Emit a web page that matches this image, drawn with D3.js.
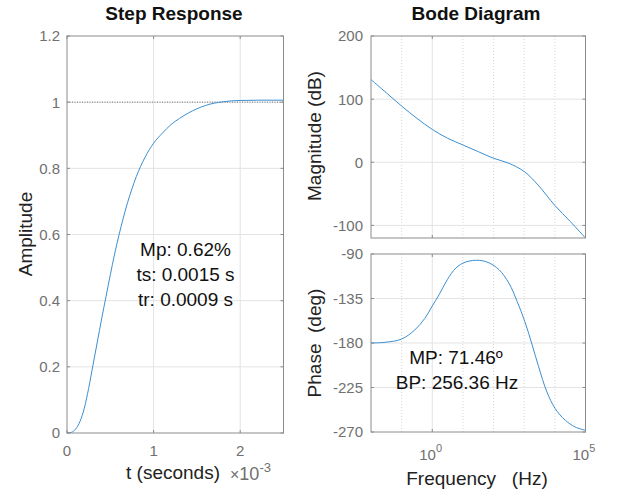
<!DOCTYPE html>
<html>
<head>
<meta charset="utf-8">
<script src="https://d3js.org/d3.v7.min.js"></script>
<style>
  body { margin: 0; background: #fff; }
  svg text { font-family: "Liberation Sans", Arial, Helvetica, sans-serif; }
</style>
</head>
<body>
<div id="chart"></div>
<script>
// step response (time in ms, amplitude)
const stepTime = [0, 0.05, 0.1, 0.15, 0.2, 0.25, 0.3, 0.35, 0.4, 0.45, 0.5, 0.55, 0.6, 0.65, 0.7, 0.75, 0.8, 0.85, 0.9, 0.95, 1.0, 1.1, 1.2, 1.3, 1.4, 1.5, 1.6, 1.7, 1.8, 1.9, 2.0, 2.2, 2.5];
const stepAmp  = [0, 0.002, 0.012, 0.035, 0.075, 0.135, 0.205, 0.275, 0.345, 0.412, 0.478, 0.541, 0.598, 0.65, 0.697, 0.738, 0.775, 0.806, 0.833, 0.856, 0.876, 0.906, 0.932, 0.951, 0.967, 0.98, 0.99, 0.997, 1.001, 1.004, 1.005, 1.006, 1.006];

// bode magnitude
const magFreq = [0.01, 0.0316, 0.1, 0.316, 1, 3.16, 10, 31.6, 100, 316, 1000, 2818, 10000, 31623, 100000];
const magDb   = [131, 110, 89, 69.5, 52, 38, 27.4, 16.8, 6.3, -1.6, -14.7, -36, -68.4, -93.7, -120];

// bode phase
const phaseFreq = [0.01, 0.0288, 0.1, 0.269, 0.575, 1, 1.66, 3.09, 5.89, 12.3, 33.9, 72.4, 151, 316, 589, 1047, 1820, 2951, 5495, 10233, 21878, 45709, 100000];
const phaseDeg  = [-180, -179.3, -176, -166.8, -155, -142.5, -131.3, -116, -104.2, -98.1, -96.4, -99.1, -105.9, -119.4, -138, -158.3, -182, -204, -229.4, -246.3, -258.1, -264.9, -268.3];

const stepXTicks = [0, 1, 2];
const stepYTicks = [0, 0.2, 0.4, 0.6, 0.8, 1, 1.2];
const magTicks = [-100, 0, 100, 200];
const phaseTicks = [-270, -225, -180, -135, -90];
const decades = [-1, 0, 1, 2, 3, 4];

const W = 617, H = 493;
const lineColor = "#3a8fd3";
const boxColor = "#8c8c8c";
const gridColor = "#e3e3e3";
const tickText = "#707070";
const labelText = "#222";

const svg = d3.select("#chart").append("svg")
    .attr("width", W).attr("height", H);

// ---------- step response ----------
const sx = d3.scaleLinear().domain([0, 2.5]).range([67, 283.5]);
const sy = d3.scaleLinear().domain([0, 1.2]).range([433, 36]);

const gs = svg.append("g");
gs.selectAll(".gx").data(stepXTicks.slice(1)).enter().append("line")
    .attr("x1", d => sx(d)).attr("x2", d => sx(d))
    .attr("y1", sy(0)).attr("y2", sy(1.2))
    .attr("stroke", gridColor);
gs.selectAll(".gy").data(stepYTicks.slice(1, -1)).enter().append("line")
    .attr("x1", sx(0)).attr("x2", sx(2.5))
    .attr("y1", d => sy(d)).attr("y2", d => sy(d))
    .attr("stroke", gridColor);

// reference line at 1
gs.append("line")
    .attr("x1", sx(0)).attr("x2", sx(2.5))
    .attr("y1", sy(1)).attr("y2", sy(1))
    .attr("stroke", "#555").attr("stroke-dasharray", "1,1.5").attr("stroke-width", 0.8);

const stepLine = d3.line()
    .x((d, i) => sx(stepTime[i]))
    .y(d => sy(d))
    .curve(d3.curveMonotoneX);
gs.append("path").datum(stepAmp)
    .attr("d", stepLine)
    .attr("fill", "none").attr("stroke", lineColor).attr("stroke-width", 1);

drawBox(gs, sx.range(), sy.range());
// ticks inward
stepXTicks.forEach(t => {
  gs.append("line").attr("x1", sx(t)).attr("x2", sx(t)).attr("y1", sy(0)).attr("y2", sy(0) - 3).attr("stroke", boxColor);
  gs.append("line").attr("x1", sx(t)).attr("x2", sx(t)).attr("y1", sy(1.2)).attr("y2", sy(1.2) + 3).attr("stroke", boxColor);
});
stepYTicks.forEach(t => {
  gs.append("line").attr("x1", sx(0)).attr("x2", sx(0) + 3).attr("y1", sy(t)).attr("y2", sy(t)).attr("stroke", boxColor);
  gs.append("line").attr("x1", sx(2.5)).attr("x2", sx(2.5) - 3).attr("y1", sy(t)).attr("y2", sy(t)).attr("stroke", boxColor);
});

gs.selectAll(".xl").data(stepXTicks).enter().append("text")
    .attr("x", d => sx(d)).attr("y", 456)
    .attr("text-anchor", "middle").attr("font-size", 15).attr("fill", tickText)
    .text(d => d);
gs.selectAll(".yl").data(stepYTicks).enter().append("text")
    .attr("x", 60).attr("y", d => sy(d)).attr("dy", "0.36em")
    .attr("text-anchor", "end").attr("font-size", 15).attr("fill", tickText)
    .text(d => d);

const expo = gs.append("text").attr("x", 230).attr("y", 480)
    .attr("font-size", 18).attr("fill", tickText);
expo.append("tspan").attr("font-size", 16).text("\u00d7");
expo.append("tspan").text("10");
expo.append("tspan").attr("dy", -8).attr("font-size", 13).text("-3");

gs.append("text").attr("x", 173).attr("y", 479)
    .attr("text-anchor", "middle").attr("font-size", 19).attr("fill", labelText)
    .text("t (seconds)");
gs.append("text").attr("transform", "translate(32,234) rotate(-90)")
    .attr("text-anchor", "middle").attr("font-size", 19).attr("fill", labelText)
    .text("Amplitude");
gs.append("text").attr("x", 174).attr("y", 20)
    .attr("text-anchor", "middle").attr("font-size", 19).attr("font-weight", "bold").attr("fill", "#111")
    .text("Step Response");

["Mp: 0.62%", "ts: 0.0015 s", "tr: 0.0009 s"].forEach((s, i) => {
  gs.append("text").attr("x", 185.5).attr("y", 256 + i * 25)
      .attr("text-anchor", "middle").attr("font-size", 19).attr("fill", "#111")
      .text(s);
});

// ---------- bode ----------
const bx = d3.scaleLog().domain([0.01, 1e5]).range([371, 585.5]);
const my = d3.scaleLinear().domain([-120, 200]).range([238, 36]);
const py = d3.scaleLinear().domain([-270, -90]).range([432, 254]);

function bodePanel(g, y, yTicks, yDomain) {
  decades.forEach(k => {
    const xv = bx(Math.pow(10, k));
    g.append("line").attr("x1", xv).attr("x2", xv)
        .attr("y1", y(yDomain[0])).attr("y2", y(yDomain[1]))
        .attr("stroke", k === 0 ? gridColor : "#d6d6d6")
        .attr("stroke-dasharray", k === 0 ? null : "1,2");
  });
  yTicks.forEach(t => {
    if (t > yDomain[0] && t < yDomain[1]) {
      g.append("line").attr("x1", bx.range()[0]).attr("x2", bx.range()[1])
          .attr("y1", y(t)).attr("y2", y(t)).attr("stroke", gridColor);
    }
    g.append("line").attr("x1", bx.range()[0]).attr("x2", bx.range()[0] + 3)
        .attr("y1", y(t)).attr("y2", y(t)).attr("stroke", boxColor);
    g.append("line").attr("x1", bx.range()[1]).attr("x2", bx.range()[1] - 3)
        .attr("y1", y(t)).attr("y2", y(t)).attr("stroke", boxColor);
  });
  g.selectAll(".yl").data(yTicks).enter().append("text")
      .attr("x", 363).attr("y", d => y(d)).attr("dy", "0.36em")
      .attr("text-anchor", "end").attr("font-size", 15).attr("fill", tickText)
      .text(d => d);
  [0, 5].forEach(k => {
    const xv = bx(Math.pow(10, k));
    g.append("line").attr("x1", xv).attr("x2", xv).attr("y1", y(yDomain[0])).attr("y2", y(yDomain[0]) - 3).attr("stroke", boxColor);
    g.append("line").attr("x1", xv).attr("x2", xv).attr("y1", y(yDomain[1])).attr("y2", y(yDomain[1]) + 3).attr("stroke", boxColor);
  });
}

const smooth = d3.curveCatmullRom.alpha(0.5);

const gm = svg.append("g");
bodePanel(gm, my, magTicks, [-120, 200]);
gm.append("path").datum(magDb)
    .attr("d", d3.line().x((d, i) => bx(magFreq[i])).y(d => my(d)).curve(smooth))
    .attr("fill", "none").attr("stroke", lineColor).attr("stroke-width", 1);
drawBox(gm, bx.range(), my.range());

const gp = svg.append("g");
bodePanel(gp, py, phaseTicks, [-270, -90]);
gp.append("path").datum(phaseDeg)
    .attr("d", d3.line().x((d, i) => bx(phaseFreq[i])).y(d => py(d)).curve(smooth))
    .attr("fill", "none").attr("stroke", lineColor).attr("stroke-width", 1);
drawBox(gp, bx.range(), py.range());

// log x tick labels
[0, 5].forEach(k => {
  const t = gp.append("text").attr("x", bx(Math.pow(10, k)) - 13).attr("y", 460)
      .attr("font-size", 15).attr("fill", tickText);
  t.append("tspan").text("10");
  t.append("tspan").attr("dy", -8).attr("font-size", 11).text(k);
});

svg.append("text").attr("x", 476).attr("y", 20)
    .attr("text-anchor", "middle").attr("font-size", 19).attr("font-weight", "bold").attr("fill", "#111")
    .text("Bode Diagram");
svg.append("text").attr("transform", "translate(321,136) rotate(-90)")
    .attr("text-anchor", "middle").attr("font-size", 19).attr("fill", labelText)
    .text("Magnitude (dB)");
svg.append("text").attr("transform", "translate(321,343) rotate(-90)")
    .attr("text-anchor", "middle").attr("font-size", 19).attr("fill", labelText)
    .style("white-space", "pre")
    .text("Phase  (deg)");
svg.append("text").attr("x", 477).attr("y", 485)
    .attr("text-anchor", "middle").attr("font-size", 19).attr("fill", labelText)
    .style("white-space", "pre")
    .text("Frequency   (Hz)");

svg.append("text").attr("x", 456).attr("y", 364)
    .attr("text-anchor", "middle").attr("font-size", 19).attr("fill", "#111")
    .text("MP: 71.46\u00ba");
svg.append("text").attr("x", 457).attr("y", 389)
    .attr("text-anchor", "middle").attr("font-size", 19).attr("fill", "#111")
    .text("BP: 256.36 Hz");

function drawBox(g, xr, yr) {
  g.append("rect")
      .attr("x", xr[0]).attr("y", Math.min(yr[0], yr[1]))
      .attr("width", xr[1] - xr[0]).attr("height", Math.abs(yr[0] - yr[1]))
      .attr("fill", "none").attr("stroke", boxColor).attr("stroke-width", 1);
}
</script>
</body>
</html>
